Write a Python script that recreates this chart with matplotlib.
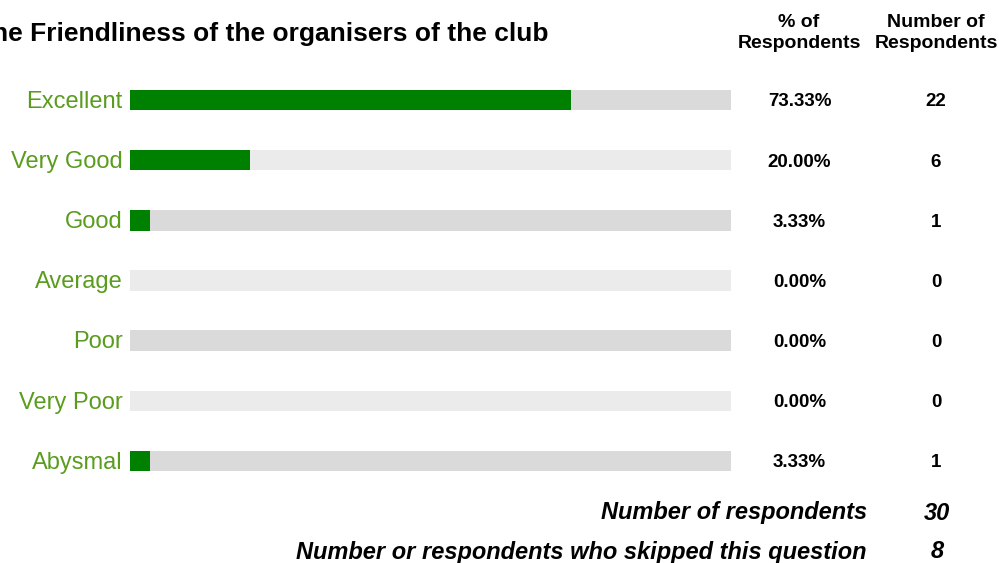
import matplotlib.pyplot as plt
import matplotlib.transforms as mtransforms

plt.rcParams['font.family'] = ['Liberation Sans', 'DejaVu Sans']

# data
categories = ['Excellent', 'Very Good', 'Good', 'Average', 'Poor', 'Very Poor', 'Abysmal']
percents = [73.33, 20.00, 3.33, 0.00, 0.00, 0.00, 3.33]
counts = [22, 6, 1, 0, 0, 0, 1]
total_respondents = 30
skipped = 8
title = 'The Friendliness of the organisers of the club'

W, H = 999, 563
fig = plt.figure(figsize=(W / 100, H / 100), dpi=100)

# bar area in pixels: x 130..731, rows centred 100..461
ax = fig.add_axes([130 / W, 1 - 491 / H, 601 / W, 421 / H])
ax.set_xlim(0, 100)
ax.set_ylim(len(categories) - 0.5, -0.5)
ax.axis('off')

ypos = range(len(categories))
bg = ['#dadada' if i % 2 == 0 else '#ebebeb' for i in ypos]
ax.barh(ypos, [100] * len(categories), height=0.34, color=bg, linewidth=0)
ax.barh(ypos, percents, height=0.34, color='#008000', linewidth=0)

trans = mtransforms.blended_transform_factory(ax.transAxes, ax.transData)
for i, (cat, p, n) in enumerate(zip(categories, percents, counts)):
    ax.text(-0.012, i + 0.03, cat, transform=trans, ha='right', va='center',
            fontsize=17, color='#5a9c1e')
    ax.text(1.114, i + 0.03, f'{p:.2f}%', transform=trans, ha='center', va='center',
            fontsize=13.5, fontweight='bold')
    ax.text(1.341, i + 0.03, str(n), transform=trans, ha='center', va='center',
            fontsize=13.5, fontweight='bold')

# headers / title in pixel coords
def px(x, y):
    return x / W, 1 - y / H

fig.text(*px(549, 34), title, ha='right', va='center', fontsize=19, fontweight='bold')
fig.text(*px(799, 33), '% of\nRespondents', ha='center', va='center',
         fontsize=14, fontweight='bold', linespacing=1.3)
fig.text(*px(936, 33), 'Number of\nRespondents', ha='center', va='center',
         fontsize=14, fontweight='bold', linespacing=1.3)

fig.text(*px(867, 513), 'Number of respondents', ha='right', va='center',
         fontsize=17, fontweight='bold', style='italic')
fig.text(*px(937, 513), str(total_respondents), ha='center', va='center',
         fontsize=17, fontweight='bold', style='italic')
fig.text(*px(867, 552), 'Number or respondents who skipped this question', ha='right',
         va='center', fontsize=17, fontweight='bold', style='italic')
fig.text(*px(937, 552), str(skipped), ha='center', va='center',
         fontsize=17, fontweight='bold', style='italic')

fig.savefig('out.png', dpi=100)
